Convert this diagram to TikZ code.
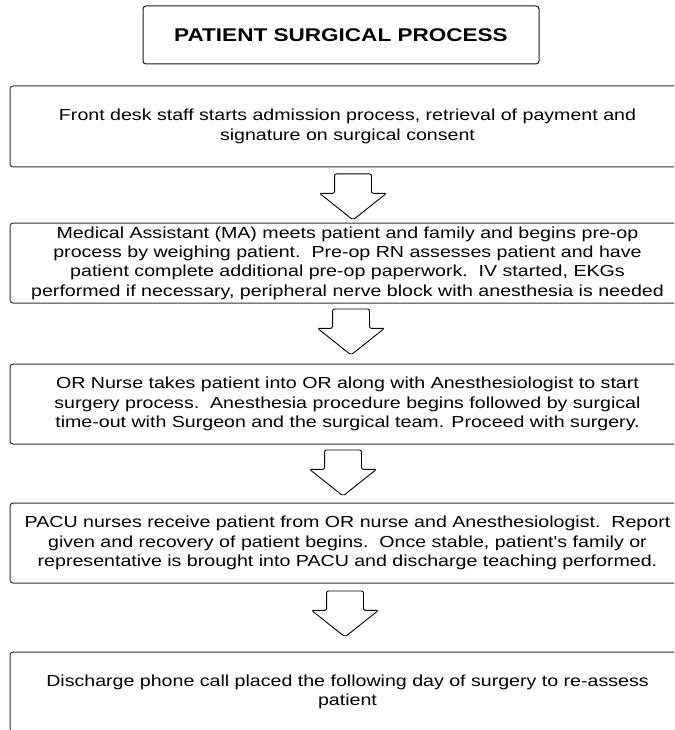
\documentclass[tikz,border=0pt]{standalone}
\usepackage{fontspec}
\setmainfont[FakeStretch=1.225,Ligatures=TeXOff]{Liberation Sans}
\usetikzlibrary{positioning,shapes.arrows}

\tikzset{
  titlebox/.style={draw=black!90, line width=1pt, rounded corners=3pt,
    minimum width=396pt, minimum height=58pt,
    font=\fontsize{18.4}{21}\selectfont\bfseries},
  stage/.style={draw=black!80, line width=1pt, rounded corners=3pt,
    minimum width=675pt, minimum height=80pt, align=center,
    font=\fontsize{16}{19.3}\selectfont},
  downarrow/.style={single arrow, draw=black, line width=0.9pt,
    rounded corners=2pt, rotate=-90, anchor=tail,
    minimum height=46pt, inner xsep=0pt, inner ysep=18pt,
    single arrow head extend=15pt, single arrow tip angle=103}
}

\begin{document}
\begin{tikzpicture}[x=1pt,y=-1pt]
  \useasboundingbox (0,0) rectangle (674,730);
  \clip (0,0) rectangle (674,730);

  \node[titlebox] (title) at (341,35) {PATIENT SURGICAL PROCESS};

  \node[stage, minimum height=81pt] (desk) [below=21pt of title, xshift=6.5pt]
    {Front desk staff starts admission process, retrieval of payment and\\
     signature on surgical consent};
  \node[stage] (preop) [below=55pt of desk]
    {Medical Assistant (MA) meets patient and family and begins pre-op\\
     process by weighing patient.\ \ Pre-op RN assesses patient and have\\
     patient complete additional pre-op paperwork.\ \ IV started, EKGs\\
     performed if necessary, peripheral nerve block with anesthesia is needed};
  \node[stage] (or) [below=60pt of preop]
    {OR Nurse takes patient into OR along with Anesthesiologist to start\\
     surgery process.\ \ Anesthesia procedure begins followed by surgical\\
     time-out with Surgeon and the surgical team. Proceed with surgery.};
  \node[stage] (pacu) [below=58pt of or]
    {PACU nurses receive patient from OR nurse and Anesthesiologist.\ \ Report\\
     given and recovery of patient begins.\ \ Once stable, patient's family or\\
     representative is brought into PACU and discharge teaching performed.};
  \node[stage] (call) [below=68pt of pacu]
    {Discharge phone call placed the following day of surgery to re-assess\\
     patient};

  % block arrows between the stages
  \node[downarrow] (a1) at ([xshift=5.5pt,yshift=-6pt]desk.south) {};
  \node[downarrow] (a2) at ([xshift=3.5pt,yshift=-5pt]preop.south) {};
  \node[downarrow] (a3) at ([xshift=-4.5pt,yshift=-5pt]or.south) {};
  \node[downarrow] (a4) at ([xshift=-2.5pt,yshift=-7pt]pacu.south) {};
\end{tikzpicture}
\end{document}
